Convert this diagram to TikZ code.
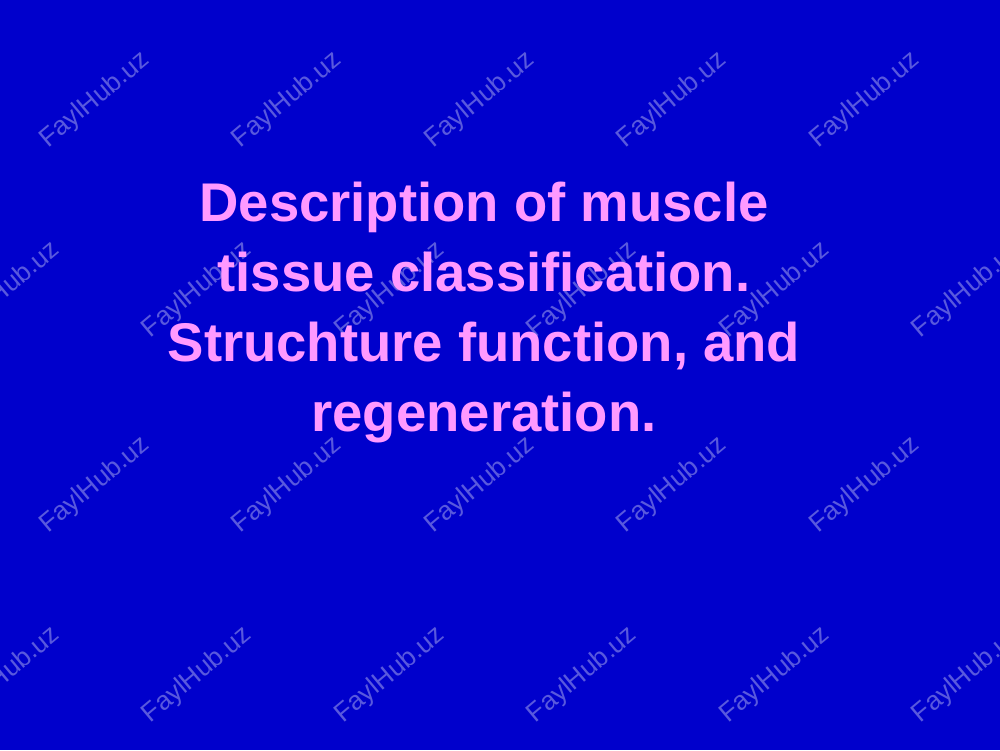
\documentclass[tikz,border=0pt]{standalone}
\usepackage{fontspec}
\setmainfont{Liberation Sans}
\usepackage{xcolor}
\usetikzlibrary{positioning}
\definecolor{slideblue}{RGB}{0,0,204}
\definecolor{titlepink}{RGB}{255,153,255}
\tikzset{
  mark text/.style={rotate=40, text=white, opacity=0.35, font=\fontsize{15}{15}\selectfont},
  title text/.style={text=titlepink, align=center, font=\bfseries\fontsize{31}{40}\selectfont}
}
\begin{document}
\begin{tikzpicture}
\fill[slideblue] (0,0) rectangle (20,-15);
\useasboundingbox (0,0) rectangle (20,-15);
% watermarks
\foreach \y in {-2,-9.7} {
  \foreach \col in {0,...,4}
    \node[mark text] (wm-a-\col) at ({1.9+3.85*\col}, \y) {FaylHub.uz};
}
\foreach \y in {-5.8,-13.5} {
  \foreach \col in {0,...,5}
    \node[mark text] (wm-b-\col) at ({0.1+3.85*\col}, \y) {FaylHub.uz};
}
% title
\node[title text] (title) at (9.68,-6.25)
  {Description of muscle\\ tissue classification.\\ Struchture function, and\\ regeneration.};
\end{tikzpicture}
\end{document}
